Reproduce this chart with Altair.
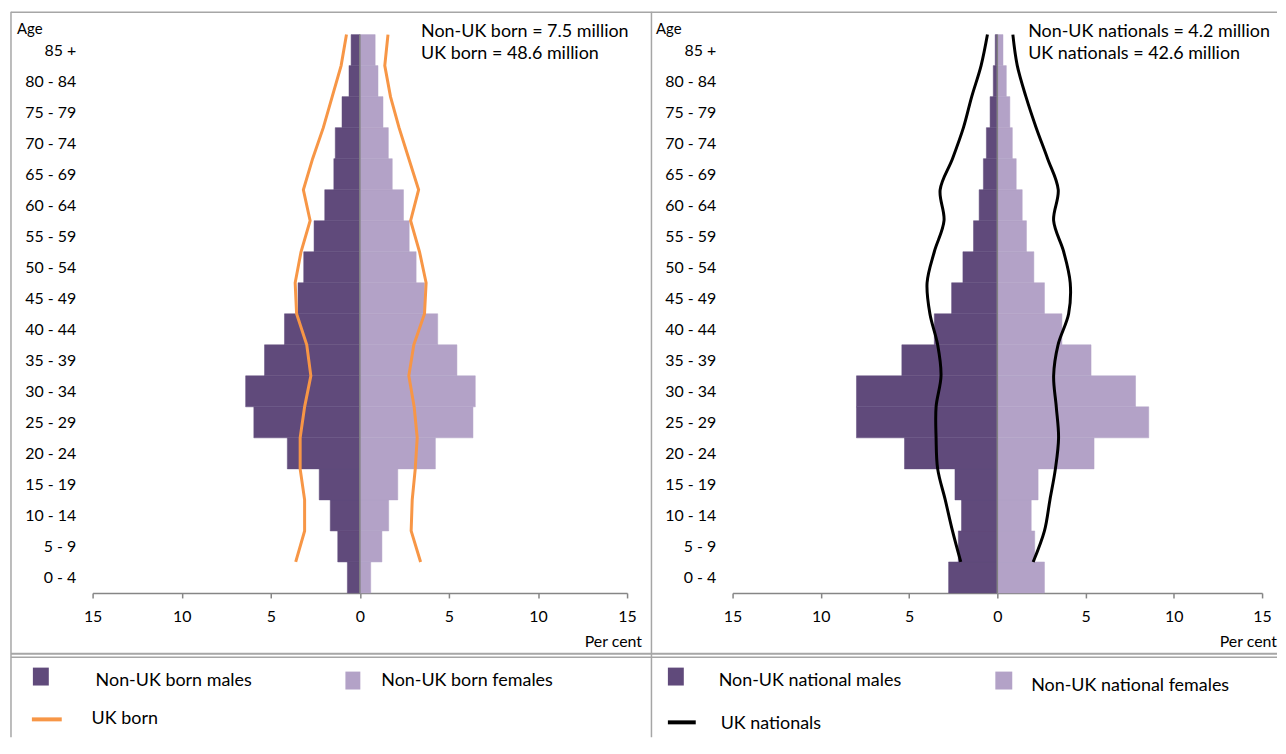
import json
import altair as alt
import pandas as pd

# ---------------- data ----------------
ages = ["0 - 4", "5 - 9", "10 - 14", "15 - 19", "20 - 24", "25 - 29", "30 - 34",
        "35 - 39", "40 - 44", "45 - 49", "50 - 54", "55 - 59", "60 - 64",
        "65 - 69", "70 - 74", "75 - 79", "80 - 84", "85 +"]

# Left panel: country of birth (per cent of each population)
nonuk_born_males = [0.70, 1.24, 1.66, 2.28, 4.07, 5.95, 6.41, 5.35, 4.23, 3.47,
                    3.15, 2.57, 1.97, 1.46, 1.38, 1.00, 0.61, 0.49]
nonuk_born_females = [0.61, 1.24, 1.62, 2.13, 4.24, 6.35, 6.48, 5.45, 4.37, 3.63,
                      3.16, 2.77, 2.45, 1.82, 1.60, 1.30, 1.02, 0.86]
uk_born_males = [3.60, 3.10, 3.10, 3.35, 3.35, 3.10, 2.75, 2.98, 3.55, 3.63,
                 3.30, 2.79, 3.17, 2.65, 2.05, 1.55, 1.05, 0.75]
uk_born_females = [3.41, 2.88, 2.94, 3.11, 3.22, 3.05, 2.75, 3.03, 3.63, 3.72,
                   3.35, 2.85, 3.30, 2.75, 2.20, 1.72, 1.40, 1.58]

# Right panel: nationality
nonuk_nat_males = [2.76, 2.21, 2.03, 2.40, 5.26, 7.98, 7.98, 5.41, 3.57, 2.59,
                   1.95, 1.35, 1.03, 0.79, 0.62, 0.41, 0.23, 0.12]
nonuk_nat_females = [2.67, 2.12, 1.92, 2.31, 5.48, 8.58, 7.83, 5.31, 3.66, 2.67,
                     2.07, 1.65, 1.41, 1.07, 0.85, 0.71, 0.51, 0.32]
uk_nat_males = [2.07, 2.54, 2.95, 3.38, 3.47, 3.47, 3.19, 3.38, 3.82, 3.98,
                3.57, 3.02, 3.24, 2.54, 1.92, 1.45, 0.92, 0.56]
uk_nat_females = [2.03, 2.67, 2.98, 3.29, 3.47, 3.34, 3.19, 3.44, 4.04, 4.13,
                  3.76, 3.19, 3.45, 2.85, 2.20, 1.62, 1.13, 0.88]

x_ticks = [-15, -10, -5, 0, 5, 10, 15]

left_notes = ["Non-UK born = 7.5 million", "UK born = 48.6 million"]
right_notes = ["Non-UK nationals = 4.2 million", "UK nationals = 42.6 million"]
left_legend = ["Non-UK born males", "Non-UK born females", "UK born"]
right_legend = ["Non-UK national males", "Non-UK national females", "UK nationals"]

# ---------------- style ----------------
FONT = "Lato"
DARK = "#604a7b"
LIGHT = "#b3a2c7"
ORANGE = "#f79646"
BLACK = "#000000"
FRAME = "#a6a6a6"
AXIS = "#868686"
H = 561

one = pd.DataFrame({"k": [0]})
label_expr = json.dumps(ages) + "[datum.value]"

X_AXIS = alt.Axis(values=x_ticks, labelExpr="abs(datum.value)", grid=False,
                  domainColor=AXIS, domainWidth=1.5, tickColor=AXIS, tickWidth=1.5,
                  tickSize=5, labelPadding=11, labelFont=FONT, labelFontSize=16,
                  labelColor="black", title="", labelFlush=False)
Y_AXIS = alt.Axis(values=list(range(len(ages))), labelExpr=label_expr, grid=False,
                  domain=False, ticks=False, labelPadding=17, labelFont=FONT,
                  labelFontSize=16, labelColor="black", title="",
                  labelOverlap=False, labelBound=False, labelFlush=False)
XS = alt.Scale(domain=[-15, 15], nice=False, zero=False)
YS = alt.Scale(domain=[-0.5, 17.5], nice=False, zero=False)


def bar_df(vals, sign):
    return pd.DataFrame({
        "idx": list(range(len(vals))),
        "lo": [sign * v for v in vals],
        "hi": [0] * len(vals),
        "ylo": [i - 0.5 for i in range(len(vals))],
        "yhi": [i + 0.5 for i in range(len(vals))],
    })


def line_df(vals, sign):
    return pd.DataFrame({
        "idx": list(range(len(vals))),
        "v": [sign * v for v in vals],
        "ypos": [i + 0.5 for i in range(len(vals))],
    })


def text(s, x, y, size, align="left", color="black"):
    return alt.Chart(pd.DataFrame({"t": [s]})).mark_text(
        font=FONT, fontSize=size, align=align, baseline="middle", color=color
    ).encode(text="t:N", x=alt.value(x), y=alt.value(y))


def rule(x, x2, y, y2, color, w):
    return alt.Chart(one).mark_rule(color=color, strokeWidth=w).encode(
        x=alt.value(x), x2=alt.value(x2), y=alt.value(y), y2=alt.value(y2))


def box(x, x2, y, y2, color):
    return alt.Chart(one).mark_rect(color=color).encode(
        x=alt.value(x), x2=alt.value(x2), y=alt.value(y), y2=alt.value(y2))


def panel(width, males, females, lm, lf, lcolor, interp, notes, note_x,
          legend, leg, frames):
    bm = alt.Chart(bar_df(males, -1)).mark_bar(color=DARK, stroke=DARK, strokeWidth=0.5).encode(
        x=alt.X("lo:Q", scale=XS, axis=X_AXIS), x2="hi:Q",
        y=alt.Y("ylo:Q", scale=YS, axis=Y_AXIS), y2="yhi:Q")
    bf = alt.Chart(bar_df(females, 1)).mark_bar(color=LIGHT, stroke=LIGHT, strokeWidth=0.5).encode(
        x=alt.X("lo:Q", scale=XS, axis=X_AXIS), x2="hi:Q",
        y=alt.Y("ylo:Q", scale=YS, axis=Y_AXIS), y2="yhi:Q")
    zero = alt.Chart(pd.DataFrame({"z": [0]})).mark_rule(color="#808080", strokeWidth=1.5).encode(
        x=alt.X("z:Q", scale=XS, axis=X_AXIS))
    layers = [bm, bf, zero]
    for vals, sign in ((lm, -1), (lf, 1)):
        layers.append(alt.Chart(line_df(vals, sign)).mark_line(
            color=lcolor, strokeWidth=3, interpolate=interp).encode(
            x=alt.X("v:Q", scale=XS, axis=X_AXIS),
            y=alt.Y("ypos:Q", scale=YS, axis=Y_AXIS),
            order="idx:Q"))

    layers += list(frames)
    layers.append(text(notes[0], note_x, -3, 18))
    layers.append(text(notes[1], note_x, 20, 18))
    layers.append(text("Age", leg["age_x"], -6, 15))
    layers.append(text("Per cent", width + 15, 610, 16, align="right"))
    # legend
    layers.append(box(*leg["dark"], DARK))
    layers.append(text(legend[0], leg["t0"][0], leg["t0"][1], 18))
    layers.append(box(*leg["light"], LIGHT))
    layers.append(text(legend[1], leg["t1"][0], leg["t1"][1], 18))
    layers.append(rule(leg["dash"][0], leg["dash"][1], leg["dash"][2], leg["dash"][2], lcolor, 4))
    layers.append(text(legend[2], leg["t2"][0], leg["t2"][1], 18))
    return alt.layer(*layers).properties(width=width, height=H)


SPACING = 106
RIGHT_SHIFT = 537 + SPACING  # right plot origin relative to the left plot origin

# frame lines (relative to the left plot origin)
left_frames = [
    rule(-82, 1190, -22.5, -22.5, FRAME, 1.5),
    rule(-82, -82, -23, 706, FRAME, 1.5),
    rule(561.5, 561.5, -23, 706, FRAME, 1.5),
    rule(-82, 1190, 622, 622, FRAME, 2),
    rule(-82, 1190, 625.5, 625.5, FRAME, 1.5),
]

left = panel(
    537, nonuk_born_males, nonuk_born_females, uk_born_males, uk_born_females,
    ORANGE, "linear", left_notes, 330, left_legend,
    {"age_x": -76, "dark": (-60, -44, 636, 654), "t0": (3, 649),
     "light": (254, 269, 640, 658), "t1": (290, 649),
     "dash": (-61, -31, 688), "t2": (-1, 688)},
    left_frames)

right = panel(
    532, nonuk_nat_males, nonuk_nat_females, uk_nat_males, uk_nat_females,
    BLACK, "catmull-rom", right_notes, 297, right_legend,
    {"age_x": -77, "dark": (-65, -49, 636, 654), "t0": (-14, 649),
     "light": (264, 281, 640, 658), "t1": (300, 654),
     "dash": (-65, -37, 691), "t2": (-12, 693)},
    [])

chart = alt.hconcat(left, right, spacing=SPACING, bounds="flush").properties(
    padding={"left": 2, "top": 1, "right": 0, "bottom": 0},
    background="white"
).configure_view(strokeWidth=0)

chart.save("out.html", embed_options={"renderer": "svg", "actions": False})
